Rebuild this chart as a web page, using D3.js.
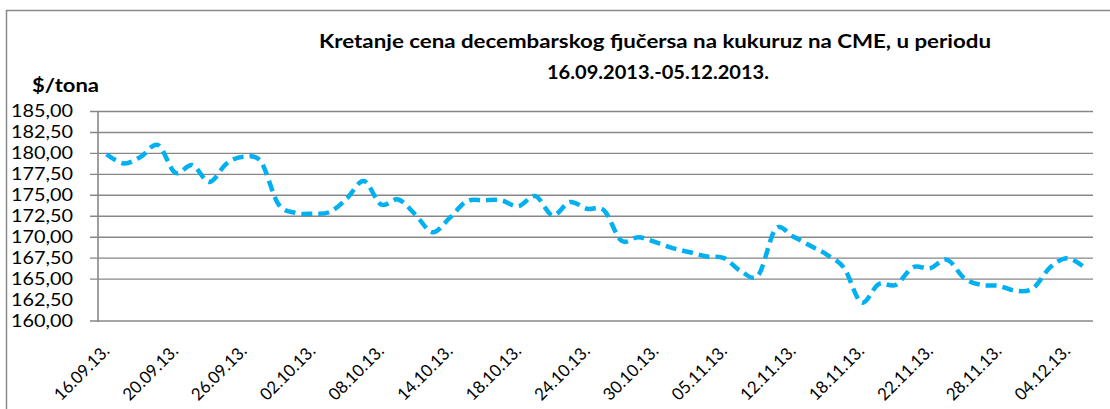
<!DOCTYPE html>
<html>
<head>
<meta charset="utf-8">
<script src="https://cdn.jsdelivr.net/npm/d3@7/dist/d3.min.js"></script>
<style>
  body { margin: 0; background: #fff; }
  text { font-family: Lato, 'Open Sans', sans-serif; fill: #000; }
</style>
</head>
<body>
<div class="chart"></div>
<script>
const dates = [
  '16.09.13.', '17.09.13.', '18.09.13.', '19.09.13.', '20.09.13.', '23.09.13.', '24.09.13.', '25.09.13.',
  '26.09.13.', '27.09.13.', '30.09.13.', '01.10.13.', '02.10.13.', '03.10.13.', '04.10.13.', '07.10.13.',
  '08.10.13.', '09.10.13.', '10.10.13.', '11.10.13.', '14.10.13.', '15.10.13.', '16.10.13.', '17.10.13.',
  '18.10.13.', '21.10.13.', '22.10.13.', '23.10.13.', '24.10.13.', '25.10.13.', '28.10.13.', '29.10.13.',
  '30.10.13.', '31.10.13.', '01.11.13.', '04.11.13.', '05.11.13.', '06.11.13.', '07.11.13.', '08.11.13.',
  '12.11.13.', '13.11.13.', '14.11.13.', '15.11.13.', '18.11.13.', '19.11.13.', '20.11.13.', '21.11.13.',
  '22.11.13.', '25.11.13.', '26.11.13.', '27.11.13.', '28.11.13.', '29.11.13.', '02.12.13.', '03.12.13.',
  '04.12.13.', '05.12.13.'
];

const prices = [
  179.9, 178.8, 179.6, 181.0, 177.7, 178.6, 176.6, 178.8,
  179.6, 179.0, 174.0, 172.9, 172.8, 173.0, 174.6, 176.7,
  173.9, 174.5, 172.7, 170.6, 172.3, 174.3, 174.4, 174.4,
  173.7, 174.9, 172.6, 174.2, 173.4, 173.2, 169.6, 170.0,
  169.4, 168.7, 168.2, 167.7, 167.5, 165.9, 165.5, 171.0,
  170.1, 169.0, 167.9, 166.3, 162.2, 164.4, 164.3, 166.4,
  166.3, 167.3, 165.1, 164.3, 164.2, 163.6, 163.9, 166.4,
  167.5, 166.4
];

const yTicks = [160, 162.5, 165, 167.5, 170, 172.5, 175, 177.5, 180, 182.5, 185];

const titleLines = ['Kretanje cena decembarskog fjučersa na kukuruz na CME, u periodu', '16.09.2013.-05.12.2013.'];
const unitLabel = '$/tona';

const w = 1110;
const h = 409;
const margin = { top: 111.5, right: 17, bottom: 88, left: 98 };

const data = dates.map((d, i) => ({ date: d, price: prices[i] }));

const svg = d3.select('.chart')
              .append('svg')
              .attr('width', w)
              .attr('height', h);

// outer chart frame (only top and left visible in the crop)
svg.append('path')
   .attr('d', `M6.5,${h} V10.5 H${w}`)
   .attr('fill', 'none')
   .attr('stroke', '#8a8a8a')
   .attr('stroke-width', 1.5);

const xScale = d3.scaleBand()
                 .domain(dates)
                 .range([margin.left, w - margin.right]);

const yScale = d3.scaleLinear()
                 .domain([160, 185])
                 .range([h - margin.bottom, margin.top]);

// gridlines (the 162,50 line does not show in the original)
svg.selectAll('.grid')
   .data(yTicks.filter(t => t > 162.5))
   .enter()
   .append('line')
   .attr('class', 'grid')
   .attr('x1', margin.left - 8)
   .attr('x2', w - margin.right)
   .attr('y1', d => yScale(d))
   .attr('y2', d => yScale(d))
   .attr('stroke', '#878787')
   .attr('stroke-width', 1.4);

// x axis line
svg.append('line')
   .attr('x1', margin.left - 8)
   .attr('x2', w - margin.right)
   .attr('y1', yScale(160))
   .attr('y2', yScale(160))
   .attr('stroke', '#878787')
   .attr('stroke-width', 1.4);

// y axis line
svg.append('line')
   .attr('x1', margin.left)
   .attr('x2', margin.left)
   .attr('y1', yScale(185))
   .attr('y2', yScale(160) + 1)
   .attr('stroke', '#878787')
   .attr('stroke-width', 1.6);

const fmt = d3.format('.2f');

svg.selectAll('.ylabel')
   .data(yTicks)
   .enter()
   .append('text')
   .attr('class', 'ylabel')
   .attr('x', 73)
   .attr('y', d => yScale(d) + 5.5)
   .style('text-anchor', 'end')
   .style('font-size', '18px')
   .attr('textLength', 62)
   .attr('lengthAdjust', 'spacingAndGlyphs')
   .text(d => fmt(d).replace('.', ','));

// x labels every 4th day, rotated
const bw = xScale.bandwidth();
svg.selectAll('.xlabel')
   .data(dates.filter((d, i) => i % 4 === 0))
   .enter()
   .append('text')
   .attr('class', 'xlabel')
   .attr('transform', d => `translate(${xScale(d) + bw / 2 + 4}, 352) rotate(-45)`)
   .style('text-anchor', 'end')
   .style('font-size', '17px')
   .attr('textLength', 70)
   .attr('lengthAdjust', 'spacingAndGlyphs')
   .text(d => d);

// price line
const line = d3.line()
               .x(d => xScale(d.date) + bw / 2)
               .y(d => yScale(d.price))
               .curve(d3.curveCatmullRom.alpha(0));

svg.append('path')
   .datum(data)
   .attr('d', line)
   .attr('fill', 'none')
   .attr('stroke', '#00b0f0')
   .attr('stroke-width', 4.5)
   .attr('stroke-dasharray', '11,6');

// titles
svg.append('text')
   .attr('x', 655)
   .attr('y', 48)
   .style('text-anchor', 'middle')
   .style('font-weight', 'bold')
   .style('font-size', '19px')
   .attr('textLength', 672)
   .attr('lengthAdjust', 'spacingAndGlyphs')
   .text(titleLines[0]);

svg.append('text')
   .attr('x', 658)
   .attr('y', 79)
   .style('text-anchor', 'middle')
   .style('font-weight', 'bold')
   .style('font-size', '19px')
   .attr('textLength', 222)
   .attr('lengthAdjust', 'spacingAndGlyphs')
   .text(titleLines[1]);

svg.append('text')
   .attr('x', 32)
   .attr('y', 92)
   .style('font-weight', 'bold')
   .style('font-size', '19px')
   .attr('textLength', 67)
   .attr('lengthAdjust', 'spacingAndGlyphs')
   .text(unitLabel);
</script>
</body>
</html>
